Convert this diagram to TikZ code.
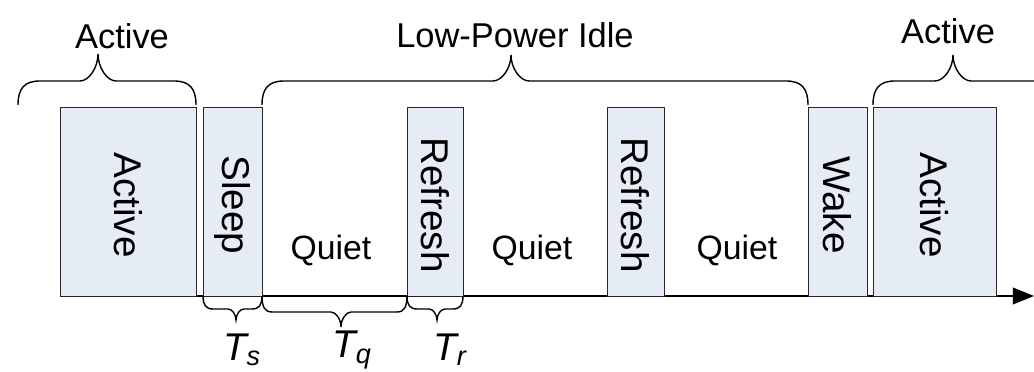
\documentclass[tikz,border=0pt]{standalone}
\usepackage{fontspec}
\setmainfont{Liberation Sans}
\usepackage{tikz}
\usetikzlibrary{arrows.meta}

\definecolor{boxfill}{RGB}{230,236,246}

\begin{document}
\begin{tikzpicture}[x=0.025cm, y=0.025cm, >={Triangle[length=0.53cm, width=0.42cm]},
  blk/.style={draw=black!85, fill=boxfill, line width=0.6pt},
  brc/.style={draw=black, line width=1pt},
  base/.style={draw=black, line width=1pt},
  vlab/.style={rotate=-90, font=\fontsize{27.5}{30}\selectfont, inner sep=0pt},
  qlab/.style={font=\fontsize{24}{28}\selectfont, inner sep=0pt},
  tlab/.style={font=\fontsize{24.5}{28}\selectfont, inner sep=0pt},
  tsub/.style={font=\fontsize{27.5}{30}\selectfont\itshape, inner sep=0pt}]
\useasboundingbox (0,0) rectangle (1034,372);
% time axis
\coordinate (t0) at (60,76);
\coordinate (tend) at (1034,76);
\draw[base, ->] (t0) -- (tend);
% phase boxes
\foreach \n/\xa/\xb/\t in {act1/60/196/Active, slp/203/262/Sleep,
    ref1/407/463/Refresh, ref2/607/664/Refresh,
    wak/808/867/Wake, act2/873/996/Active}{
  \draw[blk] (\xa,76) rectangle (\xb,265);
  \node[vlab] (\n) at ({(\xa+\xb)/2},167) {\t};
}
\node[qlab] (q1) at (331,122) {Quiet};
\node[qlab] (q2) at (532,122) {Quiet};
\node[qlab] (q3) at (737,122) {Quiet};
% braces
\foreach \xa/\xb/\xt/\yb/\ym/\yt/\r/\s in {18/196/98/267/291/318/22/18,
    262/808/511/267/291/317/22/18, 873/1060/953/267/291/317/22/18,
    203/262/236/76/63/52/10/8, 262/407/341/76/60/45/10/10,
    407/463/437/76/63/52/10/8}{
  \draw[brc] (\xa,\yb) .. controls (\xa,{\yb+0.7*(\ym-\yb)}) and ({\xa+0.3*\r},\ym) .. ({\xa+\r},\ym)
    -- ({\xt-\s},\ym) .. controls ({\xt-0.5*\s},\ym) and (\xt,{\ym+0.5*(\yt-\ym)}) .. (\xt,\yt)
    .. controls (\xt,{\ym+0.5*(\yt-\ym)}) and ({\xt+0.5*\s},\ym) .. ({\xt+\s},\ym)
    -- ({\xb-\r},\ym) .. controls ({\xb-0.3*\r},\ym) and (\xb,{\yb+0.7*(\ym-\yb)}) .. (\xb,\yb);
}
\node[tlab] (lact1) at (122,336) {Active};
\node[tlab] (lidle) at (515,337) {Low-Power Idle};
\node[tlab] (lact2) at (948,341) {Active};
\node[tsub] (ts) at (242,22) {T\textsubscript{s}};
\node[tsub] (tq) at (352,22) {T\textsubscript{q}};
\node[tsub] (tr) at (450,22) {T\textsubscript{r}};
\end{tikzpicture}
\end{document}
